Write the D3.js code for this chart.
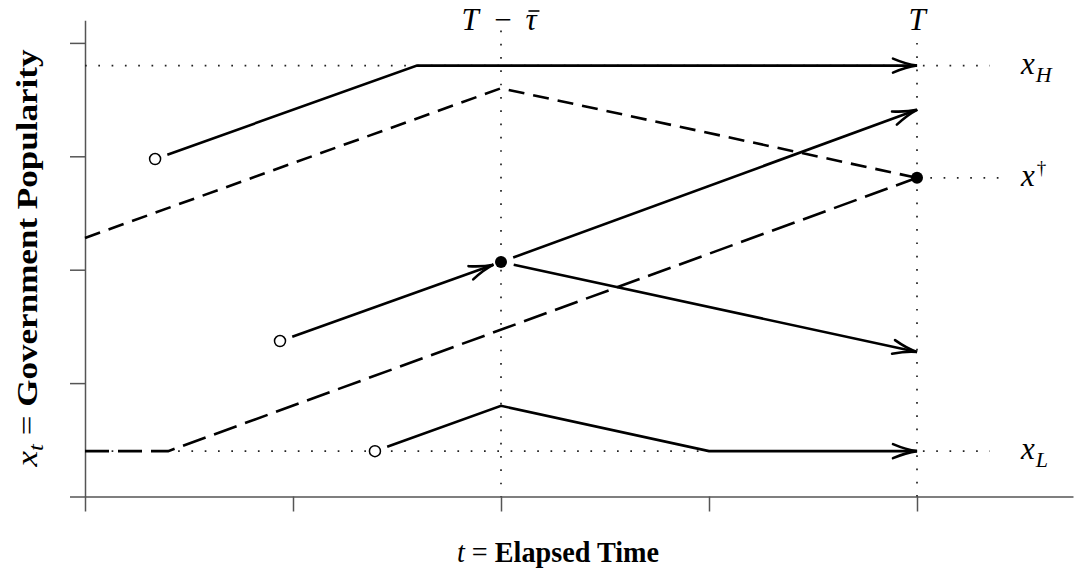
<!DOCTYPE html>
<html>
<head>
<meta charset="utf-8">
<script src="https://cdn.jsdelivr.net/npm/d3@7"></script>
<style>
  body { margin: 0; background: #fff; }
  svg text { font-family: "Liberation Serif", "DejaVu Serif", serif; fill: #000; }
</style>
</head>
<body>
<svg id="chart" width="1076" height="575"></svg>
<script>
// axis ticks (no labels in the figure)
const xTicks = [0, 1, 2, 3, 4];
const yTicks = [0, 1, 2, 3, 4];

// reference levels
const xHigh = 3.80;
const xLow = 0.40;
const xDagger = 2.81;
const tMid = 2;   // T - tau bar
const tEnd = 4;   // T

// trajectories [t, x]
const highSolid = [[0.337, 2.976], [1.596, 3.80], [4, 3.80]];
const highDashed = [[0, 2.28], [2, 3.60], [4, 2.81]];
const midIn = [[0.9375, 1.371], [2, 2.068]];
const midUp = [[2, 2.068], [4, 3.41]];
const midDown = [[2, 2.068], [4, 1.274]];
const lowDashed = [[0, 0.40], [0.4, 0.40], [4, 2.81]];
const lowSolid = [[1.394, 0.40], [2, 0.80], [3, 0.40], [4, 0.40]];

const openPoints = [[0.337, 2.976], [0.9375, 1.371], [1.394, 0.40]];
const filledPoints = [[2, 2.068], [4, 2.81]];

const svg = d3.select("#chart");

const x = d3.scaleLinear().domain([0, 4]).range([85, 917]);
const y = d3.scaleLinear().domain([0, 4]).range([496.5, 42.9]);

// axes
const axisColor = "#555";
const xAxisScale = x.copy().domain([0, 4.75]).range([x(0), x(4.75)]);
const yAxisScale = y.copy().domain([0, 4.2]).range([y(0), y(4.2)]);

const gx = svg.append("g")
    .attr("transform", "translate(0," + y(0) + ")")
    .call(d3.axisBottom(xAxisScale).tickValues(xTicks).tickSize(15).tickSizeOuter(0).tickFormat(""));
const gy = svg.append("g")
    .attr("transform", "translate(" + x(0) + ",0)")
    .call(d3.axisLeft(yAxisScale).tickValues(yTicks).tickSize(15).tickSizeOuter(0).tickFormat(""));
[gx, gy].forEach(g => {
    g.selectAll("path, line").attr("stroke", axisColor).attr("stroke-width", 1.5);
});

// dotted guides
const dotted = [
    [[0, xHigh], [4.35, xHigh]],
    [[0, xLow], [4.35, xLow]],
    [[4, xDagger], [4.4, xDagger]],
    [[tMid, 4.11], [tMid, 0]],
    [[tEnd, 4.0], [tEnd, 0]]
];
svg.append("g").selectAll("line")
    .data(dotted)
    .enter()
    .append("line")
    .attr("x1", d => x(d[0][0]))
    .attr("y1", d => y(d[0][1]))
    .attr("x2", d => x(d[1][0]))
    .attr("y2", d => y(d[1][1]))
    .attr("stroke", "#222")
    .attr("stroke-width", 1.7)
    .attr("stroke-dasharray", "1.7,11.6");

// trim a pixel polyline at start/end
function toPx(pts) { return pts.map(p => [x(p[0]), y(p[1])]); }
function trim(pts, s, e) {
    const p = pts.map(q => q.slice());
    if (s > 0) {
        const dx = p[1][0] - p[0][0], dy = p[1][1] - p[0][1], L = Math.hypot(dx, dy);
        p[0] = [p[0][0] + dx / L * s, p[0][1] + dy / L * s];
    }
    if (e > 0) {
        const n = p.length - 1;
        const dx = p[n][0] - p[n - 1][0], dy = p[n][1] - p[n - 1][1], L = Math.hypot(dx, dy);
        p[n] = [p[n][0] - dx / L * e, p[n][1] - dy / L * e];
    }
    return p;
}

const line = d3.line();

const trajectories = [
    { pts: highSolid, dash: null, start: 13, end: 0, arrow: true },
    { pts: highDashed, dash: "16,9", start: 0, end: 0, arrow: false },
    { pts: midIn, dash: null, start: 13, end: 8, arrow: true },
    { pts: midUp, dash: null, start: 13, end: 0, arrow: true },
    { pts: midDown, dash: null, start: 13, end: 0, arrow: true },
    { pts: lowDashed, dash: "24,9", start: 0, end: 0, arrow: false },
    { pts: lowSolid, dash: null, start: 13, end: 0, arrow: true }
];

trajectories.forEach(tr => {
    const px = trim(toPx(tr.pts), tr.start, tr.end);
    svg.append("path")
        .attr("d", line(px))
        .attr("fill", "none")
        .attr("stroke", "#000")
        .attr("stroke-width", 2.6)
        .attr("stroke-dasharray", tr.dash);
    if (tr.arrow) {
        const n = px.length - 1;
        const tip = px[n], prev = px[n - 1];
        const ang = Math.atan2(tip[1] - prev[1], tip[0] - prev[0]);
        const len = 24, hw = 7;
        const bx = -Math.cos(ang) * len, by = -Math.sin(ang) * len;
        const nx = -Math.sin(ang) * hw, ny = Math.cos(ang) * hw;
        svg.append("path")
            .attr("d", "M" + (tip[0] + bx + nx) + "," + (tip[1] + by + ny)
                + " Q" + (tip[0] + bx * 0.45 + nx * 0.2) + "," + (tip[1] + by * 0.45 + ny * 0.2)
                + " " + tip[0] + "," + tip[1]
                + " Q" + (tip[0] + bx * 0.45 - nx * 0.2) + "," + (tip[1] + by * 0.45 - ny * 0.2)
                + " " + (tip[0] + bx - nx) + "," + (tip[1] + by - ny))
            .attr("fill", "none")
            .attr("stroke", "#000")
            .attr("stroke-width", 2.6)
            .attr("stroke-linecap", "round");
    }
});

svg.append("g").selectAll("circle")
    .data(openPoints)
    .enter()
    .append("circle")
    .attr("cx", d => x(d[0]))
    .attr("cy", d => y(d[1]))
    .attr("r", 5.5)
    .attr("fill", "#fff")
    .attr("stroke", "#000")
    .attr("stroke-width", 1.5);

svg.append("g").selectAll("circle")
    .data(filledPoints)
    .enter()
    .append("circle")
    .attr("cx", d => x(d[0]))
    .attr("cy", d => y(d[1]))
    .attr("r", 6)
    .attr("fill", "#000");

// labels
const fs = 31;
const topY = 30;
svg.append("text").attr("x", x(tMid) - 31).attr("y", topY).attr("text-anchor", "middle")
    .style("font-size", fs + "px").attr("font-style", "italic").text("T");
svg.append("text").attr("x", x(tMid) + 2).attr("y", topY).attr("text-anchor", "middle")
    .style("font-size", fs + "px").text("\u2212");
const tau = svg.append("text").attr("x", x(tMid) + 30).attr("y", topY).attr("text-anchor", "middle")
    .style("font-size", fs + "px").attr("font-style", "italic").text("\u03C4");
const tb = tau.node().getBBox();
svg.append("line")
    .attr("x1", tb.x + 3).attr("x2", tb.x + tb.width + 1)
    .attr("y1", topY - 19).attr("y2", topY - 19)
    .attr("stroke", "#000").attr("stroke-width", 1.6);

svg.append("text").attr("x", x(tEnd)).attr("y", topY).attr("text-anchor", "middle")
    .style("font-size", fs + "px").attr("font-style", "italic").text("T");

function levelLabel(v, sub, sup) {
    const t = svg.append("text").attr("x", 1021).attr("y", y(v) + 8).style("font-size", fs + "px");
    t.append("tspan").attr("font-style", "italic").text("x");
    if (sub) t.append("tspan").attr("font-style", "italic").attr("dx", 1).attr("dy", 8).style("font-size", "22px").text(sub);
    if (sup) t.append("tspan").attr("dx", 2).attr("dy", -12).style("font-size", "19px").text(sup);
}
levelLabel(xHigh, "H", null);
levelLabel(xDagger, null, "\u2020");
levelLabel(xLow, "L", null);

const xTitle = svg.append("text").attr("x", 558).attr("y", 562).attr("text-anchor", "middle")
    .attr("textLength", 202)
    .attr("lengthAdjust", "spacingAndGlyphs")
    .style("font-size", "30px");
xTitle.append("tspan").attr("font-style", "italic").text("t");
xTitle.append("tspan").text(" = ");
xTitle.append("tspan").attr("font-weight", "bold").text("Elapsed Time");

const yTitle = svg.append("text")
    .attr("transform", "translate(37,258) rotate(-90)")
    .attr("text-anchor", "middle")
    .attr("textLength", 417)
    .attr("lengthAdjust", "spacingAndGlyphs")
    .style("font-size", "30px");
yTitle.append("tspan").attr("font-style", "italic").text("x");
yTitle.append("tspan").attr("font-style", "italic").attr("dy", 6).style("font-size", "21px").text("t");
yTitle.append("tspan").attr("dy", -6).text(" = ");
yTitle.append("tspan").attr("font-weight", "bold").text("Government Popularity");
</script>
</body>
</html>
